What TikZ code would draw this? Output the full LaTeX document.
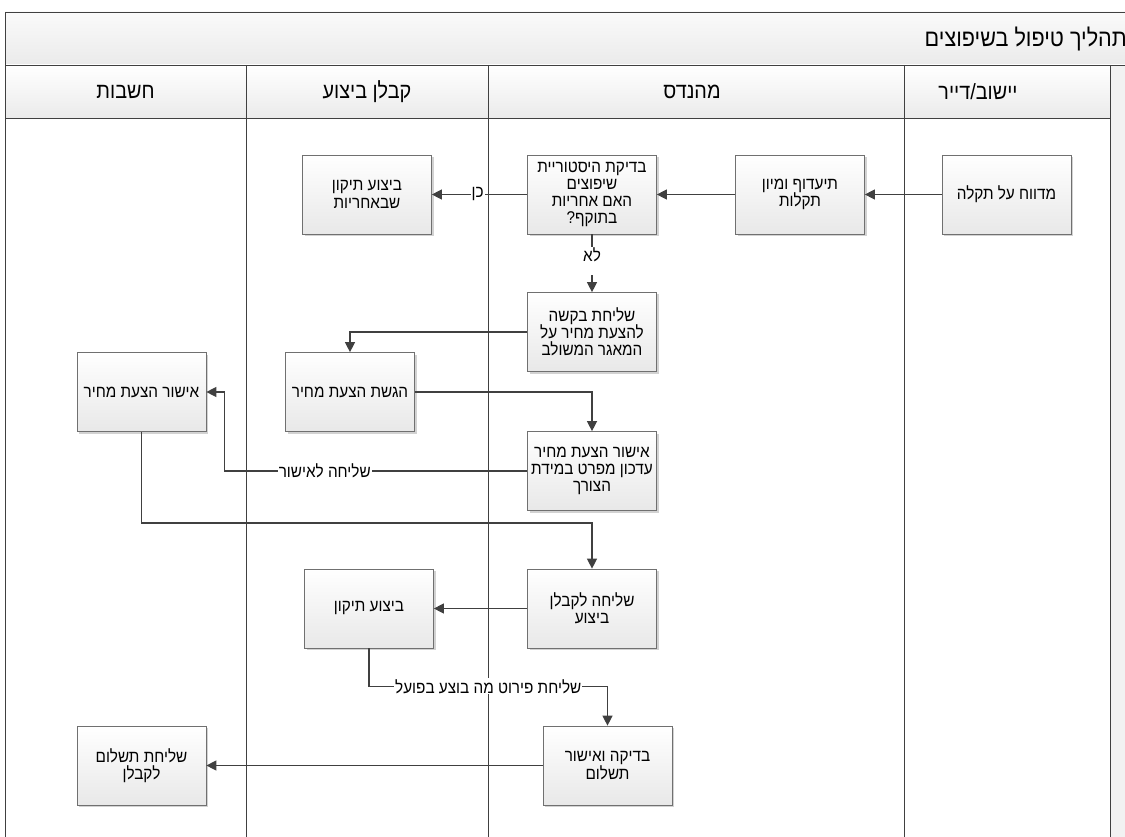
\documentclass[tikz,border=0pt]{standalone}
\usepackage{fontspec}
\usetikzlibrary{arrows.meta,shadows,calc}
\newfontfamily\hebfont[Script=Hebrew,FakeStretch=0.9]{Liberation Sans}
\TeXXeTstate=1
\newcommand{\hb}[1]{\beginR #1\endR}
\newcommand{\bxfont}{\hebfont\fontsize{17}{17.2}\selectfont}
\newcommand{\hdfont}{\hebfont\fontsize{22}{24}\selectfont}
\newcommand{\ttlfont}{\hebfont\fontsize{24}{26}\selectfont}
\definecolor{lanec}{HTML}{404040}
\definecolor{boxc}{HTML}{707070}
\definecolor{connc}{HTML}{404040}
\begin{document}
\begin{tikzpicture}[x=1pt,y=-1pt,
  lane/.style={draw=lanec,line width=0.8pt},
  box/.style={draw=boxc,line width=0.7pt,top color=white,bottom color=black!9,
    minimum width=129pt,minimum height=79pt,align=center,font=\bxfont,inner xsep=0pt,inner ysep=2pt,
    drop shadow={shadow xshift=2pt,shadow yshift=-2pt,fill=black!35,opacity=0.5}},
  conn/.style={draw=connc,line width=1.3pt,-{Triangle[length=10pt,width=10pt]}},
  lbl/.style={fill=white,inner sep=1pt,font=\bxfont},
  lanehead/.style={font=\hdfont,inner sep=0pt},
]
\useasboundingbox (0,0) rectangle (1125,837);
\clip (0,0) rectangle (1125,837);
% bands
\shade[top color=black!2,bottom color=black!8] (5,12) rectangle (1125,65);
\shade[top color=white,bottom color=black!8] (5,65) rectangle (1125,118);
\fill[black!5] (1110,65) rectangle (1125,837);
% frame and lanes
\draw[lane] (5,837) -- (5,12) -- (1125,12);
\draw[lane] (5,65) -- (1125,65);
\draw[lane] (5,118) -- (1110,118);
\foreach \lx in {246,488,904,1110} \draw[lane] (\lx,65) -- (\lx,837);
% title and lane headers
\node[anchor=east,font=\ttlfont,inner sep=0pt] (title) at (1127,39) {\hb{תהליך טיפול בשיפוצים}};
\node[lanehead] (h1) at (125.5,92) {\hb{חשבות}};
\node[lanehead] (h2) at (367,92) {\hb{קבלן ביצוע}};
\node[lanehead] (h3) at (692,92) {\hb{מהנדס}};
\node[lanehead] (h4) at (978,92) {\hb{יישוב/דייר}};
% boxes
\node[box] (n1) at (1006.5,194.5) {\hb{מדווח על תקלה}};
\node[box] (n2) at (800,194.5) {\hb{תיעדוף ומיון}\\\hb{תקלות}};
\node[box] (n3) at (592,194.5) {\hb{בדיקת היסטוריית}\\\hb{שיפוצים}\\\hb{האם אחריות}\\\hb{בתוקף?}};
\node[box] (n4) at (367,194.5) {\hb{ביצוע תיקון}\\\hb{שבאחריות}};
\node[box] (n5) at (592,332) {\hb{שליחת בקשה}\\\hb{להצעת מחיר על}\\\hb{המאגר המשולב}};
\node[box] (n6) at (350,392) {\hb{הגשת הצעת מחיר}};
\node[box] (n7) at (141.5,392) {\hb{אישור הצעת מחיר}};
\node[box] (n8) at (592,471) {\hb{אישור הצעת מחיר}\\\hb{עדכון מפרט במידת}\\\hb{הצורך}};
\node[box] (n9) at (592,608.5) {\hb{שליחה לקבלן}\\\hb{ביצוע}};
\node[box] (n10) at (369,608.5) {\hb{ביצוע תיקון}};
\node[box] (n11) at (607.5,765.5) {\hb{בדיקה ואישור}\\\hb{תשלום}};
\node[box] (n12) at (141.5,765.5) {\hb{שליחת תשלום}\\\hb{לקבלן}};
% connectors
\draw[conn] (n1.west) -- (n2.east);
\draw[conn] (n2.west) -- (n3.east);
\draw[conn] (n3.west) -- node[lbl,pos=0.52]{\hb{כן}} (n4.east);
\draw[conn] (n3.south) -- node[lbl,pos=0.2,anchor=north,text depth=13pt]{\hb{לא}} (n5.north);
\draw[conn] (n5.west) -| (n6.north);
\draw[conn] (n6.east) -| (n8.north);
\draw[conn] (n8.west) -- node[lbl,pos=0.668]{\hb{שליחה לאישור}} ++(-303,0) |- (n7.east);
\draw[conn] (n7.south) -- ++(0,91) -| (n9.north);
\draw[conn] (n9.west) -- (n10.east);
\draw[conn] (n10.south) -- ++(0,38) -| node[lbl,pos=0.25]{\hb{שליחת פירוט מה בוצע בפועל}} (n11.north);
\draw[conn] (n11.west) -- (n12.east);
\end{tikzpicture}
\end{document}
